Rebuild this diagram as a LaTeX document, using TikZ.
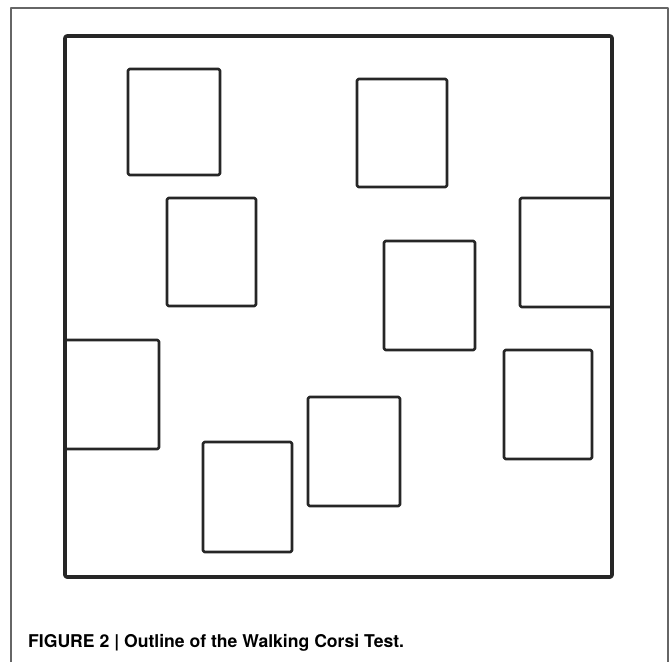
\documentclass[tikz,border=0pt]{standalone}
\usepackage{fontspec}
\setmainfont{TeX Gyre Heros}
\begin{document}
\begin{tikzpicture}[x=1pt, y=-1pt, line join=round,
    bloque/.style={line width=2.6pt, black!85, rounded corners=1.5pt},
    sala/.style={line width=3.6pt, black!85, rounded corners=2pt}]
  \useasboundingbox (0,0) rectangle (671,662);
  % Marco
  \draw[gray!80!black, line width=1.2pt] (11,662) -- (11,8) -- (668,8) -- (668,662);
  % Sala
  \draw[sala] (65,36) rectangle (612,577);
  % Bloques
  \foreach \xa/\ya/\xb/\yb in {128/69/220/175, 357/79/447/187, 167/198/256/306,
      520/198/612/307, 384/241/475/350, 65/340/159/449,
      504/350/592/459, 308/397/400/506, 203/442/292/552}
    \draw[bloque] (\xa,\ya) rectangle (\xb,\yb);
  % Leyenda
  \node[anchor=base west, font=\bfseries\fontsize{17.6}{21}\selectfont, inner sep=0pt]
    (leyenda) at (28,647) {FIGURE 2 | Outline of the Walking Corsi Test.};
\end{tikzpicture}
\end{document}
